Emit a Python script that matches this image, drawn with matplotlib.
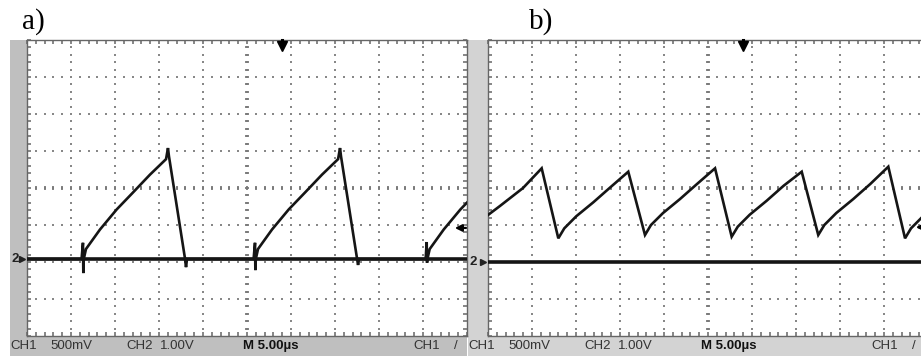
import numpy as np
import matplotlib.pyplot as plt
from matplotlib.patches import Rectangle
from matplotlib.ticker import MultipleLocator

# screen settings (both captures)
t_div = 5.0          # us per division
ch1_div = 0.5        # V per division (CH1 500mV)
n_xdiv, n_ydiv = 10, 8

# a) CH1 trace, time in us, voltage in V (read off the screen)
a_t = [0.0, 6.2, 6.36, 6.40, 6.45, 6.70, 8.30, 10.19, 12.05, 13.97, 15.80, 16.02, 16.13,
       17.95, 18.07, 18.18, 25.75, 25.91, 25.95, 26.0, 26.25, 27.85, 29.74, 31.6, 33.52,
       35.35, 35.57, 35.68, 37.5, 37.62, 37.73, 45.3, 45.42, 45.46, 45.5, 45.76, 47.36,
       49.25, 51.11]
a_v = [0.0, 0.0, 0.22, -0.19, 0.0, 0.135, 0.40, 0.67, 0.90, 1.14, 1.35, 1.50, 1.39,
       0.01, -0.11, 0.0, 0.0, 0.22, -0.15, 0.0, 0.135, 0.40, 0.67, 0.90, 1.14,
       1.35, 1.50, 1.39, 0.01, -0.08, 0.0, 0.0, 0.23, -0.05, 0.0, 0.135, 0.40,
       0.67, 0.90]
a_gnd_div = 2.08     # CH1/CH2 ground position, divisions from bottom
a_trig_v = 0.42

# b) CH1 trace
b_t = [0.0, 1.36, 3.98, 6.10, 7.99, 8.67, 10.03, 11.97, 13.90, 15.94, 17.84, 18.52,
       19.89, 21.82, 23.75, 25.80, 27.69, 28.38, 29.74, 31.67, 33.60, 35.65, 37.53,
       38.22, 39.58, 41.51, 43.44, 45.49, 47.39, 48.07, 49.43]
b_v = [0.635, 0.757, 1.0, 1.266, 0.320, 0.455, 0.618, 0.807, 1.009, 1.220, 0.365, 0.50,
       0.662, 0.851, 1.054, 1.266, 0.342, 0.477, 0.639, 0.828, 1.031, 1.220, 0.365,
       0.50, 0.662, 0.851, 1.054, 1.288, 0.320, 0.455, 0.618]
b_gnd_div = 2.0
b_trig_v = 0.47

trig_pos_t = 29.0
status_texts = [("CH1", 0), ("500mV", 40), ("CH2", 116), ("1.00V", 150),
                ("M 5.00\u00b5s", 233), ("CH1", 403), ("/", 444)]

W, H = 921, 356
fig = plt.figure(figsize=(W / 100, H / 100), dpi=100)


def px(x, y):
    return x / W, 1 - y / H


def rect(x0, y0, x1, y1, color):
    fig.add_artist(Rectangle(px(x0, y1), (x1 - x0) / W, (y1 - y0) / H,
                             transform=fig.transFigure, color=color, lw=0, zorder=0))


def scope(left, strip_color, t, v, gnd_div, trig_v, label, label_x, right_edge):
    bezel = left - 17 if left < 100 else left - 20
    rect(bezel, 336, right_edge, 356, strip_color)
    rect(bezel, 40, left, 356, strip_color)

    ax = fig.add_axes([left / W, 20 / H, 440 / W, 296 / H])
    y0 = -gnd_div * ch1_div
    y1 = y0 + n_ydiv * ch1_div
    ax.set_xlim(0, n_xdiv * t_div)
    ax.set_ylim(y0, y1)

    ax.xaxis.set_major_locator(MultipleLocator(t_div))
    ax.xaxis.set_minor_locator(MultipleLocator(t_div / 5))
    ax.yaxis.set_major_locator(MultipleLocator(ch1_div, offset=y0))
    ax.yaxis.set_minor_locator(MultipleLocator(ch1_div / 5, offset=y0))
    ax.tick_params(which="both", direction="in", length=3, width=1.1, color="#666666",
                   top=True, right=True, labelbottom=False, labelleft=False)
    for s in ax.spines.values():
        s.set_color("#666666")
        s.set_linewidth(1.0)

    # dotted graticule
    xs_major = np.arange(1, n_xdiv) * t_div
    ys_major = y0 + np.arange(1, n_ydiv) * ch1_div
    xs_minor = np.arange(1, n_xdiv * 5) * t_div / 5
    ys_minor = y0 + np.arange(1, n_ydiv * 5) * ch1_div / 5
    gx, gy = np.meshgrid(xs_major, ys_minor)
    ax.plot(gx.ravel(), gy.ravel(), "s", ms=1.5, mew=0, color="#888888")
    gx, gy = np.meshgrid(xs_minor, ys_major)
    ax.plot(gx.ravel(), gy.ravel(), "s", ms=1.5, mew=0, color="#888888")
    xc = n_xdiv / 2 * t_div
    yc = y0 + n_ydiv / 2 * ch1_div
    ax.plot(np.full_like(ys_minor, xc), ys_minor, "_", ms=3.5, mew=1.3, color="#7a7a7a")
    ax.plot(xs_minor, np.full_like(xs_minor, yc), "|", ms=3.5, mew=1.3, color="#7a7a7a")

    # traces
    ax.plot([0, n_xdiv * t_div], [0, 0], color="#151515", lw=2.6, zorder=3)
    ax.plot(t, v, color="#151515", lw=1.9, zorder=4, solid_joinstyle="miter")

    # trigger markers
    ax.plot([trig_pos_t], [y1 - 0.085], marker="v", ms=6.5, color="k", clip_on=False, zorder=5)
    ax.plot([trig_pos_t, trig_pos_t], [y1, y1 - 0.06], color="k", lw=2.2, clip_on=False, zorder=5)
    ax.annotate("", xy=(48.3, trig_v), xytext=(50.2, trig_v),
                arrowprops=dict(arrowstyle="-|>", color="k", lw=1.6, mutation_scale=10))

    # ground marker
    fx, fy = px(bezel + 1, 336 - gnd_div * 37)
    fig.text(fx, fy, "2", fontsize=9.5, fontweight="bold", ha="left", va="center",
             color="#222222", family="Liberation Sans")
    ax.plot([-0.6], [0], marker=">", ms=4.5, color="#222222", clip_on=False)

    # panel label
    lx, ly = px(label_x, 22)
    fig.text(lx, ly, label, fontsize=21, family="Liberation Serif", ha="left", va="center")

    # status line
    for txt, off in status_texts:
        sx, sy = px(bezel + off, 346)
        bold = txt.startswith("M")
        fig.text(sx, sy, txt, fontsize=9.5, family="Liberation Sans", va="center", ha="left",
                 color="#111111" if bold else "#333333",
                 fontweight="bold" if bold else "normal")
    return ax


scope(27, "#bfbfbf", a_t, a_v, a_gnd_div, a_trig_v, "a)", 22, 467)
scope(488, "#d3d3d3", b_t, b_v, b_gnd_div, b_trig_v, "b)", 529, 921)

fig.savefig("out.png", dpi=100)
